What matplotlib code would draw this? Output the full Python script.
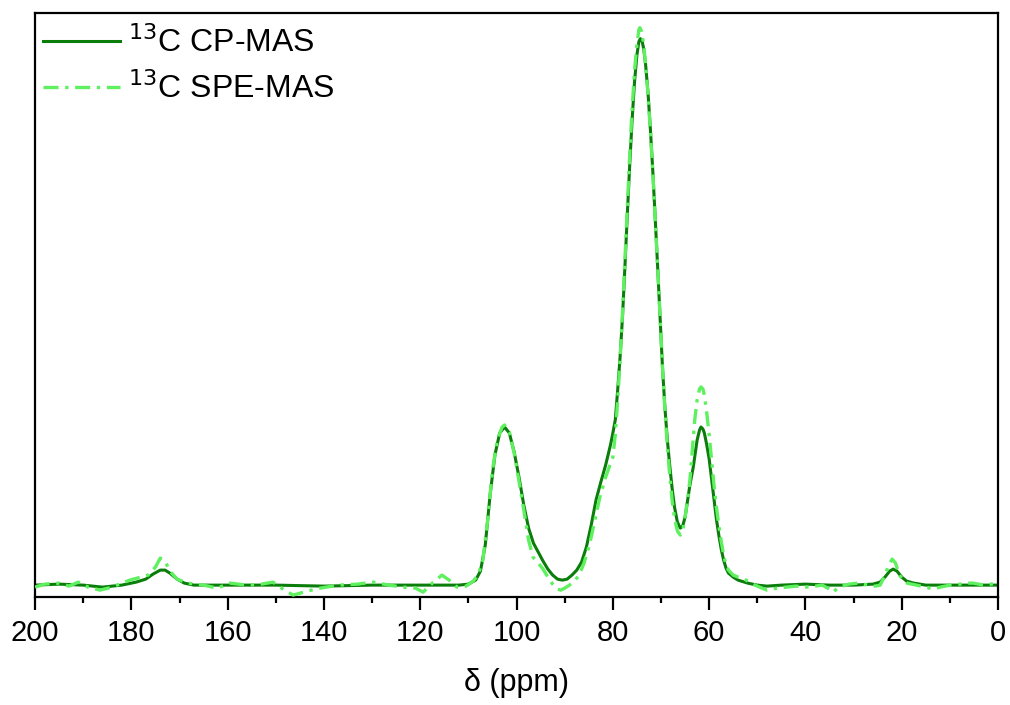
import numpy as np
import matplotlib
matplotlib.use("Agg")
import matplotlib.pyplot as plt
from matplotlib.ticker import MultipleLocator

plt.rcParams['font.family'] = ['Liberation Sans', 'DejaVu Sans']

# 13C CP-MAS spectrum (ppm, intensity a.u.)
cp_ppm = [200, 195, 190, 186, 182, 179, 177, 175.5, 174, 173, 172, 170.5, 169, 167,
          160, 150, 140, 130, 120, 112, 110, 108.5, 107.5, 106.5, 105.5, 104.5, 103.5,
          102.5, 101.5, 100.5, 99.5, 98.5, 97.5, 96.5, 95.5, 94.5, 93.5, 92.5, 91.5,
          90.5, 89.5, 88.5, 87.5, 86.5, 85.5, 84.5, 83.5, 82.5, 81.5, 80.5, 80.0, 79.5,
          79.0, 78.5, 78.0, 77.5, 77.0, 76.5, 76.0, 75.5, 75.0, 74.6, 74.3, 74.0, 73.6,
          73.2, 72.7, 72.2, 71.7, 71.2, 70.7, 70.2, 69.7, 69.2, 68.7, 68.2, 67.7, 67.2,
          66.6, 66.0, 65.5, 65.0, 64.5, 64.0, 63.3, 62.5, 62.0, 61.7, 61.3, 61.0, 60.5,
          60.0, 59.5, 59.0, 58.5, 58.0, 57.5, 57.0, 56.5, 56.0, 55.0, 54.0,
          52.0, 50.0, 48.0, 45.0, 40.0, 35.0, 30.0, 26.0, 24.5, 23.5, 22.5, 21.8, 21.0,
          20.0, 19.0, 17.5, 15.0, 10.0, 5.0, 0.0]
cp_int = [0, 1, 0, -2, 0, 3, 6, 11, 15, 15, 12, 6, 2, 0,
          0, 0, -1, 0, 0, 0, 1, 5, 14, 40, 90, 130, 152,
          158, 152, 133, 108, 80, 57, 42, 33, 24, 16, 10, 6,
          5, 6, 10, 15, 23, 38, 60, 85, 103, 120, 140, 152, 165,
          195, 228, 268, 318, 370, 420, 465, 503, 530, 543, 546, 545, 536,
          520, 492, 455, 413, 366, 318, 268, 218, 178, 146, 120, 97, 78,
          63, 57, 59, 68, 84, 100, 118, 145, 155, 158, 156, 152, 140,
          126, 106, 86, 66, 50, 36, 25, 17, 12, 8, 5,
          2, 0, -1, 0, 1, 0, 0, 1, 3, 8, 14, 16, 14,
          8, 4, 2, 0, 0, 0, 0]

# 13C SPE-MAS spectrum
spe_ppm = [200, 198, 195, 193, 191, 189, 186.5, 184, 182, 180.3, 178, 176.5, 175, 174,
           173, 172, 170.5, 168.4, 165, 162.2, 159.5, 156, 153, 150.6, 148.5, 146.4,
           143.5, 140.8, 137, 133, 129.8, 126.5, 123.6, 121, 119.4, 117.5, 115.5, 114,
           112.4, 110.5, 109, 108, 107, 106, 105, 104, 103, 102.5, 101.5, 100.5, 99.5,
           98.5, 97.5, 96.6, 95.5, 94.5, 93.5, 92.5, 91.5, 90.8, 90, 89, 88, 87, 86, 85,
           84.5, 83.5, 82.7, 81.5, 80, 79.5, 79.0, 78.5, 78.0, 77.5, 77.0, 76.5, 76.0,
           75.5, 75.0, 74.6, 74.4, 74.0, 73.6, 73.2, 72.7, 72.2, 71.7, 71.2, 70.7, 70.2,
           69.7, 69.2, 68.7, 68.2, 67.7, 67.2, 66.6, 66.0, 65.5, 65.0, 64.5, 64.0, 63.5,
           63.0, 62.5, 62.0, 61.7, 61.3, 61.0, 60.5, 60.0, 59.5, 59.0, 58.5, 58.0, 57.5,
           57.0, 56.5, 56.0, 55, 54, 53, 52, 50.5, 49, 48, 46, 44, 42, 40, 38, 36.5, 35,
           34.3, 33, 31, 29, 27, 25.5, 24.5, 23.5, 22.7, 22, 21.3, 20.5, 19.5, 18.9, 17,
           15, 13.5, 12, 10, 8, 6, 5.2, 3, 1.5, 0]
spe_int = [-2, 1, 2, -1, 3, -2, -5, -2, 2, 5, 8, 10, 18, 27,
           24, 14, 6, 2, 0, -3, 2, 0, 1, 3, -4, -10,
           -6, -3, 0, 1, 3, 0, -2, -3, -7, 2, 10, 5,
           -2, -1, 4, 10, 25, 65, 115, 145, 158, 160, 153, 132, 104,
           75, 45, 28, 22, 16, 8, 1, -4, -5, -3, 0, 4, 10, 22, 38,
           48, 70, 88, 108, 128, 150, 185, 225, 272, 325, 378, 430, 476,
           514, 541, 555, 557, 553, 540, 520, 490, 453, 412, 366, 318, 268,
           218, 175, 140, 110, 85, 67, 54, 50, 54, 68, 85, 105, 135,
           165, 185, 196, 198, 196, 190, 172, 150, 125, 100, 78, 60, 44,
           30, 20, 15, 10, 8, 7, 4, 0, -3, -5, -3, -2, -1, -2, -1, 0, -4,
           -7, -2, 1, 2, 0, -1, 0, 10, 20, 26, 22, 10, 4, 2, 0,
           -2, -4, -2, 0, 1, 2, 2, 0, 1, 2]

fig = plt.figure(figsize=(10.1, 7.05), dpi=100)
ax = fig.add_axes([0.0347, 0.153, 0.9535, 0.829])

ax.plot(cp_ppm, cp_int, color='#0a7d0a', lw=2.2, label='$^{13}$C CP-MAS', zorder=2)
ax.plot(spe_ppm, spe_int, color='#5ef05e', lw=2.4, ls=(0, (4.5, 2, 1, 2)),
        label='$^{13}$C SPE-MAS', zorder=3)

ax.set_xlim(200, 0)
ax.set_ylim(-12, 572)
ax.set_yticks([])
ax.xaxis.set_major_locator(MultipleLocator(20))
ax.xaxis.set_minor_locator(MultipleLocator(10))
ax.tick_params(axis='x', which='major', direction='out', length=9, width=1.6,
               labelsize=21, pad=7)
ax.tick_params(axis='x', which='minor', direction='out', length=4.5, width=1.6)
for s in ax.spines.values():
    s.set_linewidth(1.6)

ax.set_xlabel('δ (ppm)', fontsize=22, labelpad=15)

ax.legend(loc='upper left', bbox_to_anchor=(0.0, 0.99), frameon=False, fontsize=23,
          handlelength=2.4, handletextpad=0.25, labelspacing=0.4,
          borderaxespad=0.1, borderpad=0.15)

fig.savefig('out.png', dpi=100)
